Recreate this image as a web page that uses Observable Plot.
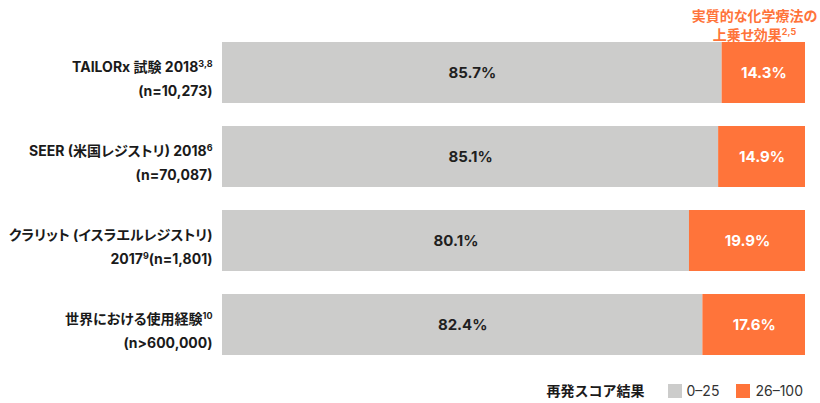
<!DOCTYPE html>
<html>
<head>
<meta charset="utf-8">
<script src="https://cdn.jsdelivr.net/npm/d3@7"></script>
<script src="https://cdn.jsdelivr.net/npm/@observablehq/plot@0.6"></script>
<style>
  body { margin: 0; background: #fff; font-family: Inter, "Noto Sans CJK JP", sans-serif; }
  #chart { width: 820px; }
  #chart svg text { font-feature-settings: "palt"; }
  .legend { display: flex; justify-content: flex-end; align-items: center; height: 18px; line-height: 18px;
            margin-top: 12px; padding-right: 17px; font-size: 14px; color: #333; }
  .legend .title { font-weight: 700; color: #1a1a1a; margin-right: 23px; }
  .legend .sw { width: 14px; height: 14px; display: inline-block; margin-right: 5px; }
  .legend .item { display: flex; align-items: center; margin-right: 17px; }
  .legend .item:last-child { margin-right: 0; }
</style>
</head>
<body>
<div id="chart"></div>
<script>
const categories = [
  "TAILORx 試験 2018^{3,8}\n(n=10,273)",
  "SEER (米国レジストリ) 2018^{6}\n(n=70,087)",
  "クラリット (イスラエルレジストリ)\n2017^{9}(n=1,801)",
  "世界における使用経験^{10}\n(n>600,000)"
];
const groups = ["0–25", "26–100"];
const lowRisk = [85.7, 85.1, 80.1, 82.4];
const highRisk = [14.3, 14.9, 19.9, 17.6];
const legendTitle = "再発スコア結果";
const annotation = "実質的な化学療法の\n上乗せ効果^{2,5}";
const colors = ["#cccccb", "#ff743a"];

const data = [];
categories.forEach((c, i) => {
  data.push({study: c, group: groups[0], value: lowRisk[i]});
  data.push({study: c, group: groups[1], value: highRisk[i]});
});

const fontFamily = 'Inter, "Noto Sans CJK JP", sans-serif';
const pct = d => d.value.toFixed(1) + "%";

const plot = Plot.plot({
  width: 820,
  height: 370,
  marginLeft: 222,
  marginRight: 15,
  marginTop: 41.5,
  marginBottom: 15.5,
  style: {fontFamily, background: "#fff"},
  x: {domain: [0, 100], axis: null},
  y: {domain: categories, paddingInner: 0.274, paddingOuter: 0, label: null},
  color: {domain: groups, range: colors},
  marks: [
    Plot.barX(data, Plot.stackX({x: "value", y: "study", fill: "group"})),
    Plot.text(data, Plot.stackX({
      x: "value", y: "study", z: "group",
      text: d => d.group === groups[0] ? pct(d) : null,
      fill: "#1f1f1f", fontSize: 15, fontWeight: 700
    })),
    Plot.text(data, Plot.stackX({
      x: "value", y: "study", z: "group",
      text: d => d.group === groups[1] ? pct(d) : null,
      fill: "#ffffff", fontSize: 15, fontWeight: 700
    })),
    Plot.axisY({
      tickSize: 0, tickPadding: 10, label: null,
      fontSize: 14, fontWeight: 700, fill: "#1a1a1a",
      lineHeight: 1.7, dy: 3
    }),
    Plot.text([annotation], {
      frameAnchor: "top-right", text: d => d, textAnchor: "middle",
      lineAnchor: "middle", lineHeight: 1.36,
      dx: -51, dy: -18, fill: "#ff743a", fontSize: 14, fontWeight: 700
    })
  ]
});

// turn ^{...} markers into real superscript tspans
const NS = "http://www.w3.org/2000/svg";
plot.querySelectorAll("text, tspan").forEach(el => {
  if (el.children.length) return;
  const s = el.textContent;
  if (!s.includes("^{")) return;
  el.textContent = "";
  const re = /\^\{([^}]*)\}/g;
  let last = 0, m;
  while ((m = re.exec(s))) {
    if (m.index > last) el.appendChild(document.createTextNode(s.slice(last, m.index)));
    const sup = document.createElementNS(NS, "tspan");
    sup.setAttribute("font-size", "9");
    sup.setAttribute("baseline-shift", "5");
    sup.textContent = m[1];
    el.appendChild(sup);
    last = re.lastIndex;
  }
  if (last < s.length) el.appendChild(document.createTextNode(s.slice(last)));
});

document.getElementById("chart").appendChild(plot);

const legend = document.createElement("div");
legend.className = "legend";
const t = document.createElement("span");
t.className = "title";
t.textContent = legendTitle;
legend.appendChild(t);
groups.forEach((g, i) => {
  const item = document.createElement("span");
  item.className = "item";
  const sw = document.createElement("span");
  sw.className = "sw";
  sw.style.background = colors[i];
  item.appendChild(sw);
  const lab = document.createElement("span");
  lab.textContent = g;
  item.appendChild(lab);
  legend.appendChild(item);
});
document.getElementById("chart").appendChild(legend);
</script>
</body>
</html>
